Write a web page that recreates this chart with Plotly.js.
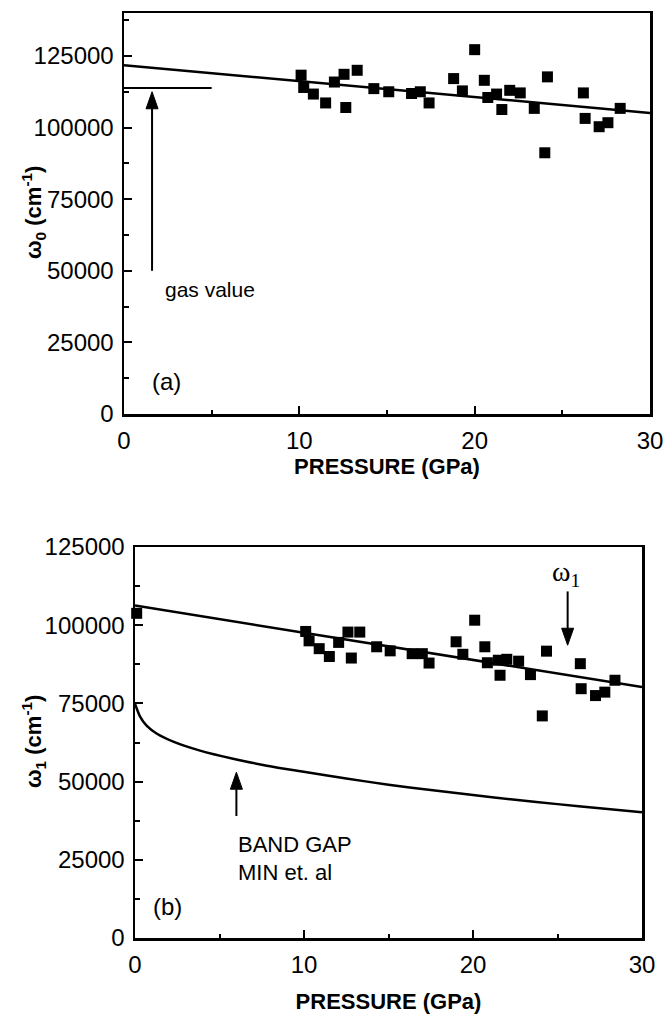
<!DOCTYPE html>
<html>
<head>
<meta charset="utf-8">
<script src="https://cdn.plot.ly/plotly-3.0.1.min.js"></script>
<style>html,body{margin:0;padding:0;background:#fff;}#chart{width:663px;height:1015px;}</style>
</head>
<body>
<div id="chart"></div>
<script>
// ---- Panel (a): omega_0 vs pressure ----
const pressureA = [10.1, 10.25, 10.8, 11.5, 12.0, 12.55, 12.65, 13.3, 14.25, 15.1, 16.4, 16.9, 17.4, 18.8, 19.3, 20.0, 20.55, 20.75, 21.25, 21.55, 22.0, 22.6, 23.4, 24.15, 24.0, 26.2, 26.3, 27.1, 27.6, 28.3];
const omega0 = [118300, 114000, 111700, 108600, 115900, 118600, 107000, 120000, 113600, 112500, 111900, 112500, 108600, 117100, 112800, 127200, 116500, 110500, 111700, 106300, 113000, 112100, 106700, 117700, 91200, 112100, 103200, 100300, 101700, 106700];
const fitAx = [0, 30];
const fitAy = [121800, 105100];
const gasX = [0, 5];
const gasY = [113800, 113800];

// ---- Panel (b): omega_1 vs pressure ----
const pressureB = [0.1, 10.1, 10.3, 10.9, 11.5, 12.05, 12.6, 12.8, 13.3, 14.3, 15.1, 16.4, 17.0, 17.4, 19.0, 19.4, 20.1, 20.7, 20.85, 21.5, 21.6, 22.0, 22.7, 23.4, 24.1, 24.35, 26.35, 26.4, 27.25, 27.8, 28.4];
const omega1 = [103800, 98000, 95000, 92500, 90000, 94500, 97800, 89500, 97800, 93100, 91800, 90900, 90900, 87900, 94700, 90700, 101600, 93100, 88000, 88800, 84000, 89100, 88500, 84200, 71000, 91700, 87700, 79700, 77500, 78600, 82400];
const fitBx = [0, 30];
const fitBy = [106300, 80200];
const gapX = [0, 0.3, 0.7, 1.3, 2.3, 3.85, 5.8, 7.8, 9.8, 12.5, 15, 17.5, 20, 22.5, 25, 27.5, 30];
const gapY = [74900, 70800, 67800, 65300, 62700, 59900, 57300, 55100, 53300, 51000, 49000, 47300, 45700, 44200, 42800, 41500, 40200];

const xTickVals = [0, 10, 20, 30];
const yTickVals = [0, 25000, 50000, 75000, 100000, 125000];
const rangeX = [0, 30];
const rangeYA = [0, 140000];
const rangeYB = [0, 125000];

// annotation arrows: [panel, x, tailY, headY]
const arrowsSpec = [
  ['a', 1.6, 50000, 112500],
  ['b', 25.6, 110800, 93600],
  ['b', 6.0, 39000, 53000]
];

const W = 663, H = 1015;
const FONT = 'Liberation Sans, Arial, sans-serif';
const boxA = {l: 124, r: 650, t: 13, b: 414};
const boxB = {l: 135, r: 642, t: 547, b: 938};
const dom = (a, b) => [a / W, b / W];
const vdom = (top, bottom) => [(H - bottom) / H, (H - top) / H];

function xAxis(box, anchor, standoff) {
  return {
    domain: dom(box.l, box.r), anchor: anchor, range: rangeX,
    tickvals: xTickVals, ticks: 'inside', ticklen: 8, tickwidth: 2, tickcolor: '#000',
    minor: {dtick: 5, ticks: 'inside', ticklen: 4, tickwidth: 2, tickcolor: '#000'},
    showline: true, linewidth: 2.5, linecolor: '#000', mirror: true,
    showgrid: false, zeroline: false, ticklabelstandoff: 4, ticklabeloverflow: 'allow',
    tickfont: {family: FONT, size: 24, color: '#000'},
    title: {text: 'PRESSURE (GPa)', standoff: standoff, font: {family: FONT, size: 22, color: '#000', weight: 'bold'}},
    automargin: false
  };
}
function yAxis(box, anchor, range) {
  return {
    domain: vdom(box.t, box.b), anchor: anchor, range: range,
    tickvals: yTickVals, tickformat: 'd', ticks: 'inside', ticklen: 8, tickwidth: 2, tickcolor: '#000',
    minor: {dtick: 12500, ticks: 'inside', ticklen: 5, tickwidth: 2, tickcolor: '#000'},
    showline: true, linewidth: 2.5, linecolor: '#000', mirror: true,
    showgrid: false, zeroline: false, ticklabelstandoff: 3,
    tickfont: {family: FONT, size: 24, color: '#000'},
    automargin: false
  };
}

const markerStyle = {symbol: 'square', size: 11, color: '#000'};
const lineStyle = {color: '#000', width: 2.5};

const traces = [
  {x: fitAx, y: fitAy, xaxis: 'x', yaxis: 'y', mode: 'lines', line: lineStyle, showlegend: false, hoverinfo: 'skip'},
  {x: gasX, y: gasY, xaxis: 'x', yaxis: 'y', mode: 'lines', line: {color: '#000', width: 2}, showlegend: false, hoverinfo: 'skip'},
  {x: pressureA, y: omega0, xaxis: 'x', yaxis: 'y', mode: 'markers', marker: markerStyle, cliponaxis: false, showlegend: false},
  {x: fitBx, y: fitBy, xaxis: 'x2', yaxis: 'y2', mode: 'lines', line: lineStyle, showlegend: false, hoverinfo: 'skip'},
  {x: gapX, y: gapY, xaxis: 'x2', yaxis: 'y2', mode: 'lines', line: {color: '#000', width: 2.5, shape: 'spline', smoothing: 0.8}, showlegend: false, hoverinfo: 'skip'},
  {x: pressureB, y: omega1, xaxis: 'x2', yaxis: 'y2', mode: 'markers', marker: markerStyle, cliponaxis: false, showlegend: false}
];

// arrows drawn as shapes (shaft + filled head), head size given in pixels
const shapes = [];
arrowsSpec.forEach(([panel, x, y0, y1]) => {
  const box = panel === 'a' ? boxA : boxB;
  const yr = panel === 'a' ? rangeYA : rangeYB;
  const xr = panel === 'a' ? 'x' : 'x2', yrf = panel === 'a' ? 'y' : 'y2';
  const pxX = (box.r - box.l) / (rangeX[1] - rangeX[0]);
  const pxY = (box.b - box.t) / (yr[1] - yr[0]);
  const headLen = 17 / pxY, headHalf = 6 / pxX;
  const dir = y1 > y0 ? 1 : -1;
  const base = y1 - dir * headLen;
  shapes.push({type: 'line', xref: xr, yref: yrf, x0: x, x1: x, y0: y0, y1: base, line: {color: '#000', width: 2}});
  shapes.push({type: 'path', xref: xr, yref: yrf,
    path: `M${x - headHalf},${base} L${x},${y1} L${x + headHalf},${base} Z`,
    fillcolor: '#000', line: {color: '#000', width: 1}});
});

const txt = (size, fam, weight) => ({family: fam || FONT, size: size, color: '#000', weight: weight || 'normal'});
const annotations = [
  // y-axis titles
  {xref: 'paper', yref: 'paper', x: 33 / W, y: (H - 213) / H, text: 'ω<sub>0</sub> (cm<sup>-1</sup>)', textangle: -90, showarrow: false, xanchor: 'center', yanchor: 'middle', font: txt(22, FONT, 'bold')},
  {xref: 'paper', yref: 'paper', x: 33 / W, y: (H - 742) / H, text: 'ω<sub>1</sub> (cm<sup>-1</sup>)', textangle: -90, showarrow: false, xanchor: 'center', yanchor: 'middle', font: txt(22, FONT, 'bold')},
  // panel (a)
  {xref: 'x', yref: 'y', x: 2.2, y: 43500, text: 'gas value', showarrow: false, xanchor: 'left', yanchor: 'middle', font: txt(21)},
  {xref: 'x', yref: 'y', x: 2.4, y: 11500, text: '(a)', showarrow: false, xanchor: 'center', yanchor: 'middle', font: txt(24)},
  // panel (b)
  {xref: 'x2', yref: 'y2', x: 25.5, y: 116600, text: 'ω<sub>1</sub>', showarrow: false, xanchor: 'center', yanchor: 'middle', font: txt(28, 'Liberation Serif, Times New Roman, serif')},
  {xref: 'x2', yref: 'y2', x: 6.0, y: 29900, text: 'BAND GAP', showarrow: false, xanchor: 'left', yanchor: 'middle', font: txt(22)},
  {xref: 'x2', yref: 'y2', x: 6.0, y: 20900, text: 'MIN et. al', showarrow: false, xanchor: 'left', yanchor: 'middle', font: txt(22)},
  {xref: 'x2', yref: 'y2', x: 1.9, y: 10000, text: '(b)', showarrow: false, xanchor: 'center', yanchor: 'middle', font: txt(24)}
];

const layout = {
  width: W, height: H,
  margin: {l: 0, r: 0, t: 0, b: 0, pad: 0},
  paper_bgcolor: '#fff', plot_bgcolor: '#fff',
  showlegend: false,
  xaxis: xAxis(boxA, 'y', 4),
  yaxis: yAxis(boxA, 'x', rangeYA),
  xaxis2: xAxis(boxB, 'y2', 17),
  yaxis2: yAxis(boxB, 'x2', rangeYB),
  shapes: shapes,
  annotations: annotations
};

Plotly.newPlot('chart', traces, layout, {displayModeBar: false, staticPlot: true});
</script>
</body>
</html>
